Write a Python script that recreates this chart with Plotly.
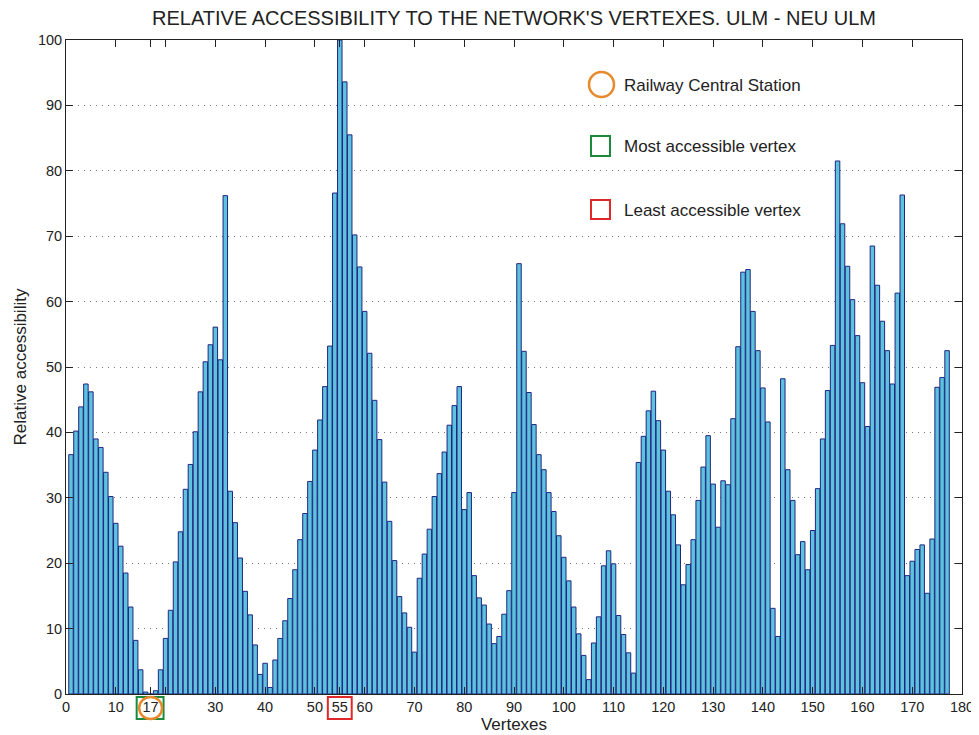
import plotly.graph_objects as go

# ---- data ----
vertexes = list(range(1, 178))
accessibility = [
    36.6, 40.2, 43.9, 47.4, 46.2, 39.0, 37.7, 33.9, 30.2, 26.1,
    22.6, 18.5, 13.3, 8.2, 3.7, 0.3, 0.0, 0.5, 3.7, 8.5,
    12.8, 20.2, 24.8, 31.3, 35.1, 40.1, 46.2, 50.8, 53.4, 56.1,
    51.1, 76.2, 31.0, 26.2, 20.8, 15.7, 12.1, 7.5, 3.0, 4.7,
    1.0, 5.2, 8.5, 11.2, 14.6, 19.0, 23.6, 27.6, 32.5, 37.3,
    41.9, 47.0, 53.2, 76.6, 100.0, 93.6, 85.5, 70.2, 65.3, 58.5,
    52.1, 44.9, 38.9, 32.4, 26.4, 20.4, 14.9, 12.4, 10.2, 6.4,
    17.7, 21.4, 25.2, 30.2, 33.7, 37.0, 41.1, 44.1, 47.0, 28.2,
    30.8, 18.1, 14.7, 13.6, 10.7, 7.7, 8.8, 12.2, 15.8, 30.8,
    65.8, 52.4, 46.1, 41.2, 36.6, 34.3, 30.8, 27.9, 24.2, 20.9,
    17.3, 13.3, 9.2, 5.9, 2.2, 7.8, 11.8, 19.6, 21.9, 19.9,
    12.0, 9.1, 6.3, 3.2, 35.4, 39.4, 43.3, 46.3, 41.8, 37.3,
    31.0, 27.4, 22.8, 16.7, 19.8, 23.6, 29.6, 34.7, 39.5, 32.1,
    25.5, 32.6, 32.0, 42.1, 53.1, 64.5, 64.9, 58.5, 52.5, 46.8,
    41.6, 13.1, 8.8, 48.2, 34.3, 29.6, 21.3, 23.3, 19.0, 25.0,
    31.4, 39.0, 46.4, 53.3, 81.5, 71.9, 65.4, 60.3, 54.8, 47.6,
    40.9, 68.5, 62.5, 57.0, 52.5, 47.4, 61.3, 76.3, 18.1, 20.3,
    22.1, 22.8, 15.4, 23.7, 46.9, 48.4, 52.5,
]
x_tick_vals = [0, 10, 17, 20, 30, 40, 50, 55, 60, 70, 80, 90, 100, 110, 120,
               130, 140, 150, 160, 170, 180]
x_tick_text = ["0", "10", "17", "", "30", "40", "50", "55", "60", "70", "80",
               "90", "100", "110", "120", "130", "140", "150", "160", "170", "180"]
y_tick_vals = list(range(0, 101, 10))

railway_station = 17
most_accessible = 17
least_accessible = 55

legend_items = ["Railway Central Station", "Most accessible vertex", "Least accessible vertex"]

# ---- style ----
FONT = "Liberation Sans, Arial, sans-serif"
ORANGE = "#E8892B"
GREEN = "#1B8A3A"
RED = "#E0282A"
TXT = "#222"

fig = go.Figure()
fig.add_trace(go.Bar(
    x=vertexes, y=accessibility,
    marker=dict(color="rgb(92,194,222)", line=dict(color="rgb(32,38,128)", width=1)),
    showlegend=False,
))

# page body has an 8px margin: size the figure so the screenshot window matches
OFF = 8
W, H = 979 - OFF, 735 - OFF
L, R, T, B = 66 - OFF, 17, 40 - OFF, 41
pw, ph = W - L - R, H - T - B


def px(x):  # screenshot pixel x -> paper
    return (x - OFF - L) / pw


def py(y):  # screenshot pixel y -> paper
    return (H - B - (y - OFF)) / ph


shapes = []
shapes.append(dict(type="circle", xref="paper", yref="paper",
                   x0=px(589), x1=px(614), y0=py(72), y1=py(97),
                   line=dict(color=ORANGE, width=2.5)))
shapes.append(dict(type="rect", xref="paper", yref="paper",
                   x0=px(591), x1=px(610), y0=py(136), y1=py(156),
                   line=dict(color=GREEN, width=2)))
shapes.append(dict(type="rect", xref="paper", yref="paper",
                   x0=px(591), x1=px(610), y0=py(200), y1=py(219),
                   line=dict(color=RED, width=2)))
shapes.append(dict(type="rect", xref="x", yref="paper",
                   x0=most_accessible - 2.8, x1=most_accessible + 2.6,
                   y0=py(697), y1=py(719),
                   line=dict(color=GREEN, width=2)))
shapes.append(dict(type="circle", xref="x", yref="paper",
                   x0=railway_station - 2.3, x1=railway_station + 2.3,
                   y0=py(697), y1=py(719),
                   line=dict(color=ORANGE, width=2.5)))
shapes.append(dict(type="rect", xref="x", yref="paper",
                   x0=least_accessible - 2.4, x1=least_accessible + 2.4,
                   y0=py(697), y1=py(719),
                   line=dict(color=RED, width=2)))

annotations = []
for label, ypix in zip(legend_items, [85, 146, 210]):
    annotations.append(dict(text=label, xref="paper", yref="paper",
                            x=px(622), y=py(ypix), xanchor="left", yanchor="middle",
                            showarrow=False, font=dict(family=FONT, size=17, color=TXT)))

fig.update_layout(
    width=W, height=H,
    margin=dict(l=L, r=R, t=T, b=B, autoexpand=False),
    paper_bgcolor="white", plot_bgcolor="white",
    bargap=0.1,
    title=dict(text="RELATIVE ACCESSIBILITY TO THE NETWORK'S VERTEXES. ULM - NEU ULM",
               x=(514 - OFF) / W, xanchor="center",
               y=1 - (18 - OFF) / H, yanchor="middle", automargin=False,
               font=dict(family=FONT, size=20, color=TXT)),
    font=dict(family=FONT, size=14, color=TXT),
    shapes=shapes,
    annotations=annotations,
    showlegend=False,
)
fig.update_xaxes(
    range=[0, 180], tickmode="array", tickvals=x_tick_vals, ticktext=x_tick_text,
    ticks="inside", ticklen=7, tickcolor=TXT, showline=True, linecolor=TXT,
    linewidth=1, mirror="ticks", showgrid=False, zeroline=False, automargin=False,
    tickfont=dict(family=FONT, size=14.5, color=TXT),
    title=dict(text="Vertexes", font=dict(family=FONT, size=17, color=TXT), standoff=0),
)
fig.update_yaxes(
    range=[0, 100], tickmode="array", tickvals=y_tick_vals,
    ticks="inside", ticklen=7, tickcolor=TXT, showline=True, linecolor=TXT,
    linewidth=1, mirror="ticks", showgrid=True, gridcolor="rgb(120,120,120)",
    griddash="1px,5px", gridwidth=1, zeroline=False, automargin=False,
    tickfont=dict(family=FONT, size=14.5, color=TXT),
    title=dict(text="Relative accessibility", font=dict(family=FONT, size=17, color=TXT), standoff=6),
)

fig.write_html("out.html")
